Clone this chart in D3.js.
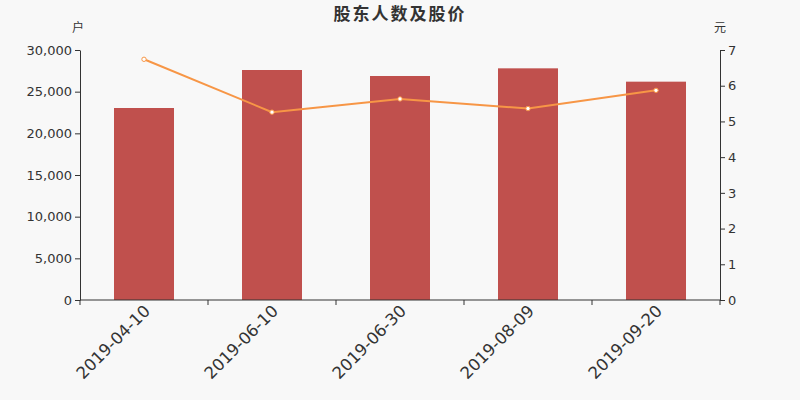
<!DOCTYPE html>
<html lang="zh">
<head>
  <meta charset="UTF-8">
  <title>股东人数及股价</title>
  <style>
    html, body { margin: 0; padding: 0; background: #f8f8f8; }
    svg { display: block; }
    svg text { font-family: "DejaVu Sans", "Noto Sans CJK SC", sans-serif; }
    .axis path, .axis line { stroke: #333; }
    .axis text { fill: #333; }
  </style>
</head>
<body>
<div id="chart"></div>
<script src="https://d3js.org/d3.v7.min.js"></script>
<script>
  const dates = ['2019-04-10', '2019-06-10', '2019-06-30', '2019-08-09', '2019-09-20']
  const holders = [23040, 27600, 26880, 27800, 26200]
  const prices = [6.74, 5.26, 5.63, 5.36, 5.87]
  const leftTicks = [0, 5000, 10000, 15000, 20000, 25000, 30000]
  const rightTicks = [0, 1, 2, 3, 4, 5, 6, 7]

  const width = 800, height = 400
  const m = {top: 50, right: 80, bottom: 100, left: 80}

  const svg = d3.select('#chart').append('svg')
    .attr('width', width)
    .attr('height', height)

  svg.append('rect').attr('width', width).attr('height', height).attr('fill', '#f8f8f8')

  const x = d3.scaleBand().domain(dates).range([m.left, width - m.right])
  const yL = d3.scaleLinear().domain([0, 30000]).range([height - m.bottom, m.top])
  const yR = d3.scaleLinear().domain([0, 7]).range([height - m.bottom, m.top])

  // 柱子
  const barW = 60
  svg.selectAll('rect.bar')
    .data(holders)
    .enter()
    .append('rect')
    .attr('class', 'bar')
    .attr('x', (d, i) => x(dates[i]) + x.bandwidth() / 2 - barW / 2)
    .attr('y', d => yL(d))
    .attr('width', barW)
    .attr('height', d => yL(0) - yL(d))
    .attr('fill', '#c0504d')

  // x 轴, 刻度在分类边界
  const xAxisG = svg.append('g')
    .attr('class', 'axis')
    .attr('transform', `translate(0, ${height - m.bottom})`)
  xAxisG.append('line')
    .attr('x1', m.left).attr('x2', width - m.right)
    .attr('stroke', '#333')
  const bounds = dates.map(d => x(d)).concat([x(dates[dates.length - 1]) + x.bandwidth()])
  xAxisG.selectAll('line.tk')
    .data(bounds)
    .enter()
    .append('line')
    .attr('class', 'tk')
    .attr('x1', d => d).attr('x2', d => d)
    .attr('y1', 0).attr('y2', 5)
    .attr('stroke', '#333')
  xAxisG.selectAll('text')
    .data(dates)
    .enter()
    .append('text')
    .attr('transform', d => `translate(${x(d) + x.bandwidth() / 2 + 3}, 8) rotate(-45)`)
    .attr('text-anchor', 'end')
    .attr('dy', '0.35em')
    .attr('font-size', '16.5px')
    .text(d => d)

  // 左轴
  svg.append('g')
    .attr('class', 'axis')
    .attr('transform', `translate(${m.left}, 0)`)
    .call(d3.axisLeft(yL).tickValues(leftTicks).tickSize(5).tickSizeOuter(0).tickFormat(d3.format(',')))
    .call(g => g.attr('font-family', null).selectAll('text').attr('font-size', '13px'))

  // 右轴
  svg.append('g')
    .attr('class', 'axis')
    .attr('transform', `translate(${width - m.right}, 0)`)
    .call(d3.axisRight(yR).tickValues(rightTicks).tickSize(5).tickSizeOuter(0).tickFormat(d3.format('d')))
    .call(g => g.attr('font-family', null).selectAll('text').attr('font-size', '13px'))

  // 折线
  const line = d3.line()
    .x((d, i) => x(dates[i]) + x.bandwidth() / 2)
    .y(d => yR(d))
  svg.append('path')
    .datum(prices)
    .attr('d', line)
    .attr('fill', 'none')
    .attr('stroke', '#f79646')
    .attr('stroke-width', 2)

  svg.selectAll('circle')
    .data(prices)
    .enter()
    .append('circle')
    .attr('cx', (d, i) => x(dates[i]) + x.bandwidth() / 2)
    .attr('cy', d => yR(d))
    .attr('r', 2.2)
    .attr('fill', '#fff')
    .attr('stroke', '#f79646')
    .attr('stroke-width', 1)

  // 标题与单位
  svg.append('text')
    .attr('x', width / 2).attr('y', 20)
    .attr('text-anchor', 'middle')
    .attr('font-size', '17px')
    .attr('font-weight', 'bold')
    .attr('fill', '#333')
    .attr('letter-spacing', '2px')
    .text('股东人数及股价')

  svg.append('text')
    .attr('x', m.left - 2).attr('y', 32)
    .attr('text-anchor', 'middle')
    .attr('font-size', '12px')
    .attr('fill', '#333')
    .text('户')

  svg.append('text')
    .attr('x', width - m.right).attr('y', 32)
    .attr('text-anchor', 'middle')
    .attr('font-size', '12px')
    .attr('fill', '#333')
    .text('元')
</script>
</body>
</html>
